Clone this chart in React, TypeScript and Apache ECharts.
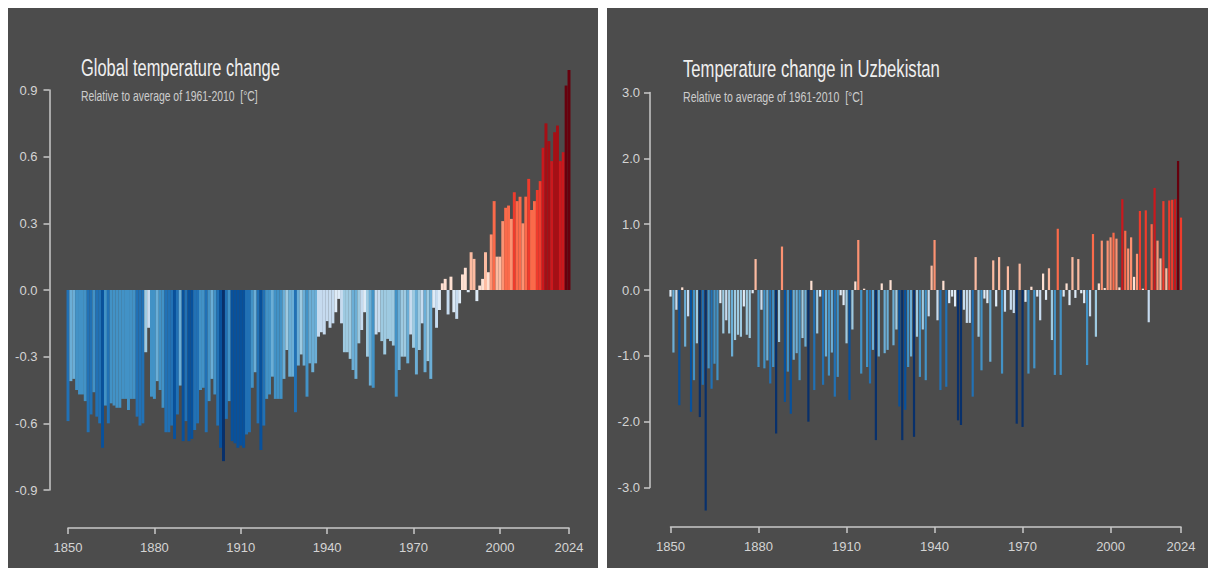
import React, { useEffect, useRef } from "react";
import * as echarts from "echarts";

const FIRST_YEAR = 1850;
const LAST_YEAR = 2024;
const xTickYears = [1850, 1880, 1910, 1940, 1970, 2000, 2024];

const globalTitle = "Global temperature change";
const uzTitle = "Temperature change in Uzbekistan";
const subtitle = "Relative to average of 1961-2010  [°C]";

// Global anomaly, 1850..2024 (°C, relative to 1961-2010)
const globalValues = [
  -0.59, -0.41, -0.40, -0.45, -0.47, -0.47, -0.50, -0.64, -0.56, -0.46,
  -0.57, -0.60, -0.71, -0.52, -0.60, -0.51, -0.52, -0.53, -0.53, -0.49,
  -0.49, -0.54, -0.49, -0.49, -0.57, -0.61, -0.60, -0.28, -0.17, -0.48,
  -0.49, -0.41, -0.45, -0.53, -0.64, -0.64, -0.61, -0.67, -0.56, -0.43,
  -0.68, -0.59, -0.68, -0.67, -0.63, -0.60, -0.45, -0.44, -0.64, -0.50,
  -0.40, -0.47, -0.61, -0.71, -0.77, -0.58, -0.50, -0.68, -0.69, -0.71,
  -0.70, -0.71, -0.65, -0.64, -0.44, -0.37, -0.60, -0.72, -0.61, -0.49,
  -0.47, -0.39, -0.49, -0.49, -0.49, -0.40, -0.27, -0.39, -0.39, -0.55,
  -0.34, -0.29, -0.34, -0.48, -0.33, -0.37, -0.33, -0.21, -0.19, -0.20,
  -0.14, -0.17, -0.15, -0.10, -0.04, -0.15, -0.28, -0.28, -0.31, -0.36,
  -0.40, -0.24, -0.18, -0.10, -0.30, -0.43, -0.44, -0.20, -0.19, -0.23,
  -0.29, -0.22, -0.23, -0.25, -0.48, -0.36, -0.30, -0.30, -0.33, -0.20,
  -0.26, -0.38, -0.27, -0.15, -0.37, -0.32, -0.40, -0.08, -0.17, -0.09,
  0.03, 0.05, -0.11, 0.06, -0.10, -0.13, -0.06, 0.07, 0.10, -0.01,
  0.17, 0.14, -0.05, 0.02, 0.05, 0.17, 0.08, 0.25, 0.40, 0.15,
  0.15, 0.31, 0.37, 0.38, 0.32, 0.44, 0.40, 0.42, 0.30, 0.42,
  0.50, 0.36, 0.40, 0.45, 0.49, 0.64, 0.75, 0.67, 0.58, 0.71,
  0.74, 0.58, 0.62, 0.92, 0.99,
];

// Uzbekistan anomaly, 1850..2024 (°C, relative to 1961-2010)
const uzbekValues = [
  -0.10, -0.95, -0.30, -1.75, 0.04, -0.86, -0.40, -1.85, -1.37, -0.81,
  -1.93, -1.44, -3.35, -1.19, -1.50, -1.12, -1.37, -0.20, -0.66, -0.46,
  -0.66, -1.01, -0.76, -0.68, -0.71, -0.25, -0.68, -0.73, -0.05, 0.47,
  -1.17, -0.30, -1.19, -1.07, -1.42, -1.17, -2.18, -0.79, 0.66, -1.70,
  -1.24, -1.88, -1.06, -0.96, -1.37, -0.73, -0.86, -2.00, 0.14, -1.52,
  -0.66, -0.10, -1.44, -1.01, -1.30, -0.95, -1.62, -1.32, -0.08, -0.23,
  -0.81, -1.67, -0.60, 0.13, 0.76, -1.27, 0.02, -1.17, -1.42, -0.91,
  -2.28, -1.01, 0.10, -0.96, -0.91, 0.15, -0.84, -0.60, -1.77, -2.28,
  -1.82, -1.17, -1.01, -2.23, -0.71, -1.32, -0.60, -1.37, -0.40, 0.37,
  0.76, -0.46, -1.52, 0.14, -1.47, -0.20, -0.10, -0.25, -1.98, -2.05,
  -0.30, -0.50, -0.50, -1.62, 0.50, -0.71, -1.22, -0.13, -0.20, -1.09,
  0.45, -0.25, 0.50, -1.27, -0.33, 0.36, -0.30, -0.35, -2.03, 0.40,
  -2.08, -0.18, -1.27, 0.05, -1.19, -0.10, -0.46, 0.25, -0.15, 0.33,
  -0.76, -1.29, 0.93, -1.29, -0.10, 0.10, -0.23, 0.50, -0.12, 0.47,
  -0.05, -0.20, -1.14, -0.40, 0.85, -0.71, 0.10, 0.75, 0.03, 0.75,
  0.80, 0.87, 0.78, 0.04, 1.38, 0.90, 0.63, 0.80, 0.20, 0.55,
  1.20, 0.02, 1.21, -0.49, 1.00, 1.55, 0.75, 0.48, 1.35, 0.33,
  1.36, 1.37, 1.38, 1.96, 1.10,
];

const years: number[] = [];
for (let y = FIRST_YEAR; y <= LAST_YEAR; y++) years.push(y);

const BLUES = ["#deebf7", "#c6dbef", "#9ecae1", "#6baed6", "#4292c6", "#2171b5", "#08519c", "#08306b"];
const REDS = ["#fee0d2", "#fcbba1", "#fc9272", "#fb6a4a", "#ef3b2c", "#cb181d", "#a50f15", "#67000d"];

function colorFor(v: number, range: number): string {
  const idx = Math.min(7, Math.floor(Math.abs(v) / (range / 8)));
  return v >= 0 ? REDS[idx] : BLUES[idx];
}

const PANEL_BG = "#4c4c4c";
const AXIS_COLOR = "#c8c8c8";
const LABEL_COLOR = "#d4d4d4";
const LABEL_FONT = "'Liberation Sans Narrow', 'Liberation Sans', Arial, sans-serif";
const TITLE_FONT = "'Liberation Sans', Arial, sans-serif";

function xAxisFor(gridIndex: number, offset: number) {
  return {
    gridIndex,
    type: "value",
    min: FIRST_YEAR,
    max: LAST_YEAR,
    position: "bottom",
    offset,
    splitLine: { show: false },
    axisLine: { show: true, onZero: false, lineStyle: { color: AXIS_COLOR, width: 1.5 } },
    axisTick: { show: true, length: 6, customValues: xTickYears, lineStyle: { color: AXIS_COLOR, width: 1.5 } },
    axisLabel: {
      show: true,
      customValues: xTickYears,
      margin: 13,
      color: LABEL_COLOR,
      fontSize: 13,
      fontFamily: LABEL_FONT,
      formatter: (v: number) => String(v),
    },
  };
}

function yAxisFor(gridIndex: number, min: number, max: number, interval: number, offset: number, margin: number) {
  return {
    gridIndex,
    type: "value",
    min,
    max,
    interval,
    position: "left",
    offset,
    splitLine: { show: false },
    axisLine: { show: true, onZero: false, lineStyle: { color: AXIS_COLOR, width: 1.5 } },
    axisTick: { show: true, length: 6, lineStyle: { color: AXIS_COLOR, width: 1.5 } },
    axisLabel: {
      margin,
      color: LABEL_COLOR,
      fontSize: 13,
      fontFamily: LABEL_FONT,
      formatter: (v: number) => (Math.abs(v) < 1e-9 ? 0 : v).toFixed(1),
    },
  };
}

function titleText(x: number, y: number, text: string, size: number, scaleX: number, fill: string) {
  return {
    type: "text",
    x,
    y,
    scaleX,
    z: 5,
    style: {
      text,
      fill,
      font: `${size}px ${TITLE_FONT}`,
      verticalAlign: "middle",
      align: "left",
    },
  };
}

export default function App() {
  const ref = useRef<HTMLDivElement>(null);
  useEffect(() => {
    document.documentElement.style.overflow = "hidden";
    document.body.style.overflow = "hidden";
    const chart = echarts.init(ref.current as HTMLDivElement, null, { renderer: "svg" });
    const option = {
      animation: false,
      backgroundColor: "#ffffff",
      grid: [
        { left: 60, top: 82, width: 501, height: 400 },
        { left: 662.5, top: 84.5, width: 510.5, height: 395 },
      ],
      xAxis: [xAxisFor(0, 38), xAxisFor(1, 39.5)],
      yAxis: [yAxisFor(0, -0.9, 0.9, 0.3, 18.5, 12), yAxisFor(1, -3, 3, 1, 20.5, 10)],
      series: [
        {
          type: "bar",
          xAxisIndex: 0,
          yAxisIndex: 0,
          barWidth: 2.95,
          clip: false,
          silent: true,
          data: globalValues.map((v, i) => [years[i], v]),
          itemStyle: { color: (p: any) => colorFor(p.value[1], 0.88) },
        },
        {
          type: "bar",
          xAxisIndex: 1,
          yAxisIndex: 1,
          barWidth: 2.2,
          clip: false,
          silent: true,
          data: uzbekValues.map((v, i) => [years[i], v]),
          itemStyle: { color: (p: any) => colorFor(p.value[1], 2.2) },
        },
      ],
      graphic: {
        elements: [
          { type: "rect", z: -10, shape: { x: 0, y: 0, width: 590, height: 560 }, style: { fill: PANEL_BG } },
          { type: "rect", z: -10, shape: { x: 599, y: 0, width: 601, height: 560 }, style: { fill: PANEL_BG } },
          titleText(73, 60, globalTitle, 23, 0.714, "#f0f0f0"),
          titleText(73, 88, subtitle, 15, 0.693, "#cccccc"),
          titleText(675, 60, uzTitle, 24, 0.693, "#f0f0f0"),
          titleText(675, 89, subtitle, 15, 0.705, "#cccccc"),
        ],
      },
    };
    chart.setOption(option as any);
    return () => chart.dispose();
  }, []);
  return <div ref={ref} style={{ width: 1200, height: 560 }} />;
}
